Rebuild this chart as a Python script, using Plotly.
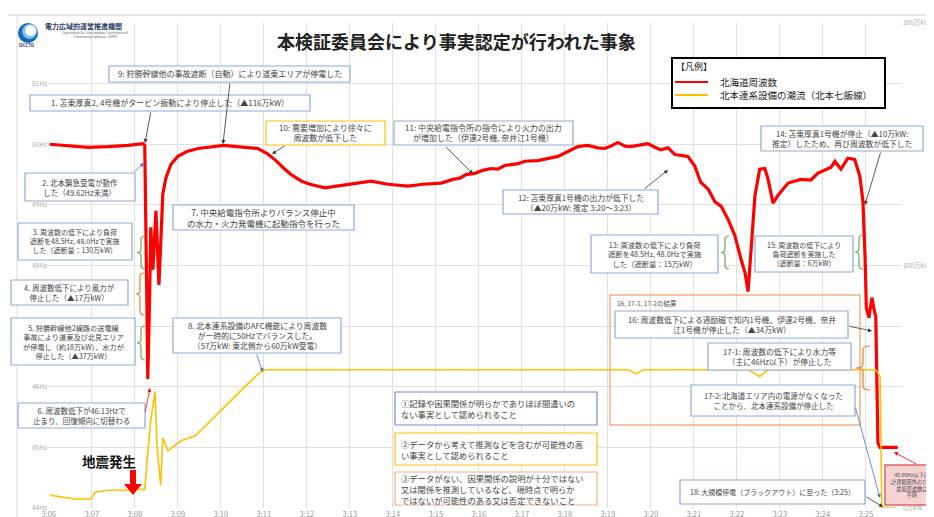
import plotly.graph_objects as go

FONT = "Noto Sans CJK JP"

# ---------------- data ----------------
tick_minutes = [6, 7, 8, 9, 10, 11, 12, 13, 14, 15, 16, 17, 18, 19, 20, 21, 22, 23, 24, 25]
tick_labels = ["3:06", "3:07", "3:08", "3:09", "3:10", "3:11", "3:12", "3:13", "3:14", "3:15",
               "3:16", "3:17", "3:18", "3:19", "3:20", "3:21", "3:22", "3:23", "3:24", "3:25"]

hz_ticks = [44, 45, 46, 47, 48, 49, 50, 51, 52]
hz_labels = ["44Hz", "45Hz", "46Hz", "47Hz", "48Hz", "49Hz", "50Hz", "51Hz", ""]

flow_ticks = [0, 100, 200]
flow_labels = ["0万kW", "100万kW", "200万kW"]

# 北海道周波数 (Hz) vs minutes after 3:00
freq_min = [6.02, 6.44, 6.91, 7.37, 7.84, 8.19, 8.23, 8.28, 8.30, 8.34, 8.37, 8.42, 8.49, 8.56, 8.62,
            8.65, 8.72, 8.84, 9.00, 9.21, 9.47, 9.77, 10.07, 10.37, 10.67, 10.86, 11.07, 11.28, 11.47,
            11.63, 11.88, 12.07, 12.42, 12.72, 13.02, 13.28, 13.49, 13.88, 14.35, 14.70, 15.12, 15.40,
            15.56, 15.70, 15.91, 16.09, 16.28, 16.44, 16.60, 16.91, 17.07, 17.37, 17.67, 17.84, 18.07,
            18.30, 18.53, 18.77, 18.93, 19.07, 19.23, 19.40, 19.53, 19.70, 19.93, 20.09, 20.23, 20.40,
            20.56, 20.86, 21.02, 21.16, 21.33, 21.49, 21.63, 21.79, 21.95, 22.09, 22.19, 22.26, 22.35,
            22.42, 22.53, 22.65, 22.72, 22.84, 22.95, 23.19, 23.49, 23.72, 23.88, 24.05, 24.19, 24.28,
            24.42, 24.58, 24.74, 24.86, 24.93, 24.98, 25.01, 25.07, 25.14, 25.19, 25.23, 25.28, 25.33,
            25.74]
freq_hz = [50.00, 49.98, 49.95, 49.96, 49.98, 50.01, 49.98, 47.36, 46.13, 47.36, 48.63, 47.93, 48.90,
           47.68, 48.90, 49.18, 49.44, 49.67, 49.80, 49.88, 49.93, 49.96, 49.98, 49.96, 49.94, 49.93,
           49.85, 49.73, 49.60, 49.50, 49.39, 49.34, 49.28, 49.31, 49.34, 49.37, 49.39, 49.34, 49.31,
           49.34, 49.36, 49.42, 49.44, 49.50, 49.52, 49.57, 49.60, 49.59, 49.65, 49.68, 49.72, 49.73,
           49.77, 49.80, 49.88, 49.96, 49.98, 49.94, 49.93, 49.97, 50.03, 49.97, 49.96, 49.98, 50.01,
           49.95, 49.91, 49.94, 49.83, 49.80, 49.64, 49.37, 49.26, 49.05, 48.98, 48.77, 48.50, 48.12,
           47.88, 47.57, 48.50, 49.15, 49.59, 49.60, 49.44, 49.03, 49.15, 49.36, 49.42, 49.41, 49.52,
           49.57, 49.62, 49.72, 49.59, 49.77, 49.75, 49.47, 49.07, 48.17, 47.31, 47.14, 47.47, 47.27,
           47.16, 45.07, 45.00, 45.00]

# 北本連系設備の潮流 (万kW)
flow_min = [6.02, 6.33, 6.60, 6.98, 7.07, 7.37, 7.77, 8.00, 8.23, 8.28, 8.37, 8.47, 8.51, 8.60, 8.65,
            8.77, 9.07, 9.40, 9.70, 10.00, 10.33, 10.63, 10.93, 11.05, 19.47, 19.65, 19.84, 22.26,
            22.53, 22.72, 25.23, 25.33, 25.37, 25.42, 25.70]
flow_val = [5.3, 4.5, 3.7, 3.7, 6.5, 7.3, 7.3, 7.7, 7.7, 18.7, 36.3, 48.1, 26.9, 9.4, 28.9, 23.6,
            27.7, 29.7, 35.0, 40.3, 46.0, 51.3, 56.2, 57.0, 57.0, 55.4, 57.0, 57.0, 54.2, 57.0, 57.0,
            54.2, 0.4, 0.0, 0.0]

# ---------------- layout helpers (pixel -> paper) ----------------
W_FIG, H_FIG = 934, 517
ML, MR, MT, MB = 40, 40, 15, 17
PW = W_FIG - ML - MR
PH = H_FIG - MT - MB


def PX(X):
    return (X - ML) / PW


def PY(Y):
    return (MT + PH - Y) / PH


BLUE = "#8EAADB"
BLUE2 = "#6F8FD0"
YELLOW = "#FFC000"
ORANGE = "#F4B183"
RED = "#E06666"
GREEN = "#70AD47"
TXT = "#444444"

shapes = []
annotations = []


def box(x0, y0, x1, y1, text, border, size=8, align="center", bg="white", lw=1.2, color=TXT):
    shapes.append(dict(type="rect", xref="paper", yref="paper", x0=PX(x0), x1=PX(x1),
                       y0=PY(y1), y1=PY(y0), line=dict(color=border, width=lw), fillcolor=bg,
                       layer="above"))
    if align == "left":
        annotations.append(dict(xref="paper", yref="paper", x=PX(x0 + 4), y=PY((y0 + y1) / 2),
                                xanchor="left", yanchor="middle", text=text, showarrow=False,
                                align="left", font=dict(size=size, color=color, family=FONT)))
    else:
        annotations.append(dict(xref="paper", yref="paper", x=PX((x0 + x1) / 2), y=PY((y0 + y1) / 2),
                                xanchor="center", yanchor="middle", text=text, showarrow=False,
                                align="center", font=dict(size=size, color=color, family=FONT)))


def arrow(tx, ty, hx, hy, color="#333333", width=0.8, head=2, size=1.0):
    annotations.append(dict(xref="paper", yref="paper", x=PX(hx), y=PY(hy), ax=tx - hx, ay=ty - hy,
                            text="", showarrow=True, arrowhead=head, arrowsize=size,
                            arrowwidth=width, arrowcolor=color))


def brace(xt, y0, y1, color, arm=8):
    xm = xt + arm / 2
    xr = xt + arm
    ym = (y0 + y1) / 2
    r = 4
    p = (f"M {PX(xr)},{PY(y0)} Q {PX(xm)},{PY(y0)} {PX(xm)},{PY(y0 + r)} "
         f"L {PX(xm)},{PY(ym - r)} Q {PX(xm)},{PY(ym)} {PX(xt)},{PY(ym)} "
         f"Q {PX(xm)},{PY(ym)} {PX(xm)},{PY(ym + r)} L {PX(xm)},{PY(y1 - r)} "
         f"Q {PX(xm)},{PY(y1)} {PX(xr)},{PY(y1)}")
    shapes.append(dict(type="path", xref="paper", yref="paper", path=p,
                       line=dict(color=color, width=1.2), layer="above"))


def text(x, y, s, size=8, color=TXT, anchor="left", bold=False):
    annotations.append(dict(xref="paper", yref="paper", x=PX(x), y=PY(y), xanchor=anchor,
                            yanchor="middle", text=(f"<b>{s}</b>" if bold else s), showarrow=False,
                            font=dict(size=size, color=color, family=FONT)))


def hline(x0, y0, x1, y1, color, width=1, dash="solid"):
    shapes.append(dict(type="line", xref="paper", yref="paper", x0=PX(x0), y0=PY(y0), x1=PX(x1),
                       y1=PY(y1), line=dict(color=color, width=width, dash=dash), layer="above"))


# ---------------- figure ----------------
fig = go.Figure()
fig.add_trace(go.Scatter(x=flow_min, y=flow_val, yaxis="y2", mode="lines",
                         line=dict(color="#FFC000", width=1.6), showlegend=False, hoverinfo="skip"))
fig.add_trace(go.Scatter(x=freq_min, y=freq_hz, mode="lines",
                         line=dict(color="#FF0000", width=3.2), showlegend=False, hoverinfo="skip"))

# frame lines
hline(0, 7, 934, 7, "#d0d0d0", 1)
hline(9, 7, 9, 517, "#dcdcdc", 1)

# logo
shapes.append(dict(type="circle", xref="paper", yref="paper", x0=PX(10), x1=PX(30), y0=PY(35), y1=PY(15),
                   fillcolor="#1E63B5", line=dict(width=0), layer="above"))
shapes.append(dict(type="circle", xref="paper", yref="paper", x0=PX(14), x1=PX(29), y0=PY(31), y1=PY(16),
                   fillcolor="#6EC1F0", line=dict(width=0), layer="above"))
shapes.append(dict(type="circle", xref="paper", yref="paper", x0=PX(17), x1=PX(28), y0=PY(28), y1=PY(17),
                   fillcolor="white", line=dict(width=0), layer="above"))
text(9, 37, "OCCTO", 4.5, "#1F3864", bold=True)
text(35, 18, "電力広域的運営推進機関", 7, "#1F3864", bold=True)
annotations.append(dict(xref="paper", yref="paper", x=PX(52), y=PY(27), xanchor="left", yanchor="middle",
                        text="Organization for Cross-regional Coordination of<br>Transmission Operators, JAPAN",
                        showarrow=False, font=dict(size=3, color="#666", family=FONT)))

# title
text(448, 33, "本検証委員会により事実認定が行われた事象", 18, "#222222", anchor="center", bold=True)

# legend
shapes.append(dict(type="rect", xref="paper", yref="paper", x0=PX(664), x1=PX(877), y0=PY(100), y1=PY(50),
                   line=dict(color="black", width=2), fillcolor="white", layer="above"))
text(666, 58, "【凡例】", 9, "#222")
hline(667, 74, 700, 74, "#FF0000", 2)
hline(667, 87, 700, 87, "#FFC000", 2)
text(710, 74, "北海道周波数", 9.5, "#222")
text(710, 87, "北本連系設備の潮流（北本七飯線）", 9.5, "#222")

# big orange group box
shapes.append(dict(type="rect", xref="paper", yref="paper", x0=PX(602), x1=PX(852), y0=PY(417), y1=PY(287),
                   line=dict(color=ORANGE, width=1.5), fillcolor="rgba(0,0,0,0)", layer="above"))
text(607, 295, "16, 17-1, 17-2の結果", 6.5, "#555")

# event boxes
box(101, 58, 342, 74, "9: 狩勝幹線他の事故遮断（自動）により道東エリアが停電した", BLUE, 8)
box(22, 87, 302, 103, "1. 苫東厚真2, 4号機がタービン振動により停止した（▲116万kW）", BLUE, 8)
box(258, 113, 377, 137, "10: 需要増加により徐々に<br>周波数が低下した", YELLOW, 8)
box(386, 113, 565, 137, "11: 中央給電指令所の指令により火力の出力<br>が増加した（伊達2号機, 奈井江1号機）", BLUE, 8)
box(753, 118, 915, 143, "14: 苫東厚真1号機が停止（▲10万kW:<br>推定）したため、再び周波数が低下した", BLUE, 7.8)
box(17, 165, 127, 193, "2. 北本緊急受電が動作<br>した（49.62Hz未満）", BLUE, 7.5)
box(495, 182, 650, 206, "12: 苫東厚真1号機の出力が低下した<br>（▲20万kW: 推定 3:20〜3:23）", BLUE, 7.8)
box(165, 197, 346, 222, "7. 中央給電指令所よりバランス停止中<br>の水力・火力発電機に起動指令を行った", BLUE, 8.5)
box(10, 215, 124, 252, "3. 周波数の低下により負荷<br>遮断を48.5Hz, 48.0Hzで実施<br>した（遮断量：130万kW）", BLUE, 7)
box(583, 227, 710, 265, "13: 周波数の低下により負荷<br>遮断を48.5Hz, 48.0Hzで実施<br>した（遮断量：15万kW）", BLUE, 7.3)
box(747, 228, 845, 264, "15: 周波数の低下により<br>負荷遮断を実施した<br>（遮断量：6万kW）", BLUE, 7)
box(3, 272, 120, 297, "4. 周波数低下により風力が<br>停止した（▲17万kW）", BLUE, 7.5)
box(3, 310, 127, 357, "5. 狩勝幹線他2線路の送電線<br>事故により道東及び北見エリア<br>が停電し（約18万kW）、水力が<br>停止した（▲37万kW）", BLUE, 7.2)
box(165, 310, 333, 345, "8. 北本連系設備のAFC機能により周波数<br>が一時的に50Hzでバランスした。<br>（57万kW: 東北側から60万kW受電）", BLUE, 7.8)
box(607, 303, 840, 330, "16: 周波数低下による過励磁で知内1号機、伊達2号機、奈井<br>江1号機が停止した（▲34万kW）", BLUE, 7.8)
box(700, 335, 843, 362, "17-1: 周波数の低下により水力等<br>（主に46Hz以下）が停止した", BLUE, 7.8)
box(683, 377, 847, 408, "17-2: 北海道エリア内の電源がなくなった<br>ことから、北本連系設備が停止した", BLUE, 7.5)
box(10, 395, 137, 420, "6. 周波数低下が46.13Hzで<br>止まり、回復傾向に切替わる", BLUE, 7.5)
box(672, 472, 857, 496, "18: 大規模停電（ブラックアウト）に至った（3:25）", BLUE, 7)
box(877, 457, 931, 497, "45.00Hz以下は<br>計測範囲外のため<br>最低周波数は<br>不明", RED, 5.2, bg="#F6D3D3", lw=1.5)

# certainty legend boxes
box(387, 384, 589, 417, "①記録や因果関係が明らかでありほぼ間違いの<br>ない事実として認められること", BLUE2, 8.3, align="left")
box(387, 425, 589, 457, "②データから考えて推測などを含むが可能性の高<br>い事実として認められること", YELLOW, 8.3, align="left")
box(387, 464, 589, 497, "③データがない、因果関係の説明が十分ではない<br>又は関係を推測しているなど、現時点で明らか<br>ではないが可能性のある又は否定できないこと", ORANGE, 8.3, align="left")

# braces
brace(129, 228, 261, GREEN)
brace(128, 265, 307, "#ED7D31")
brace(129, 318, 352, GREEN)
brace(713, 228, 261, GREEN)
brace(847, 227, 261, GREEN)
brace(848, 338, 382, "#ED7D31", arm=14)

# arrows
arrow(222, 74, 215, 136)
arrow(143, 103, 137, 135)
arrow(278, 137, 264, 146)
arrow(437, 138, 465, 166)
arrow(635, 182, 660, 162)
arrow(873, 143, 857, 197)
arrow(125, 165, 136, 155, color="#4472C4")
arrow(248, 345, 255, 364, color="#4472C4")
arrow(137, 405, 142, 380, color="#FF0000")
arrow(840, 318, 864, 323)
arrow(847, 398, 872, 490, color="#4472C4")
arrow(857, 488, 875, 499)
arrow(910, 457, 886, 444, color="#FF0000")

# earthquake marker
text(101, 453, "地震発生", 13.5, "#111111", anchor="center", bold=True)
shapes.append(dict(type="rect", xref="paper", yref="paper", x0=PX(122), x1=PX(128), y0=PY(477), y1=PY(462),
                   fillcolor="#FF0000", line=dict(width=0), layer="above"))
tri = f"M {PX(116)},{PY(476)} L {PX(134)},{PY(476)} L {PX(125)},{PY(487)} Z"
shapes.append(dict(type="path", xref="paper", yref="paper", path=tri, fillcolor="#FF0000",
                   line=dict(width=0), layer="above"))

fig.update_layout(
    width=W_FIG, height=H_FIG,
    margin=dict(l=ML, r=MR, t=MT, b=MB),
    paper_bgcolor="white", plot_bgcolor="white",
    showlegend=False,
    font=dict(family=FONT, color="#999"),
    xaxis=dict(range=[5.98, 25.84], tickvals=tick_minutes, ticktext=tick_labels,
               showgrid=True, gridcolor="#e0e0e0", gridwidth=1, zeroline=False, showline=False,
               ticks="", ticklen=0, tickfont=dict(size=7.5, color="#999", family=FONT), automargin=False),
    yaxis=dict(range=[44, 52], tickvals=hz_ticks, ticktext=hz_labels, showgrid=True,
               gridcolor="#e0e0e0", zeroline=False, showline=False, ticks="", ticklen=0,
               tickfont=dict(size=6.5, color="#aaa", family=FONT), automargin=False),
    yaxis2=dict(range=[0, 200], tickvals=flow_ticks, ticktext=flow_labels, overlaying="y",
                side="right", showgrid=False, zeroline=False, showline=False, ticks="", ticklen=0,
                tickfont=dict(size=6.5, color="#aaa", family=FONT), automargin=False),
    shapes=shapes,
    annotations=annotations,
)

fig.write_html("out.html")
